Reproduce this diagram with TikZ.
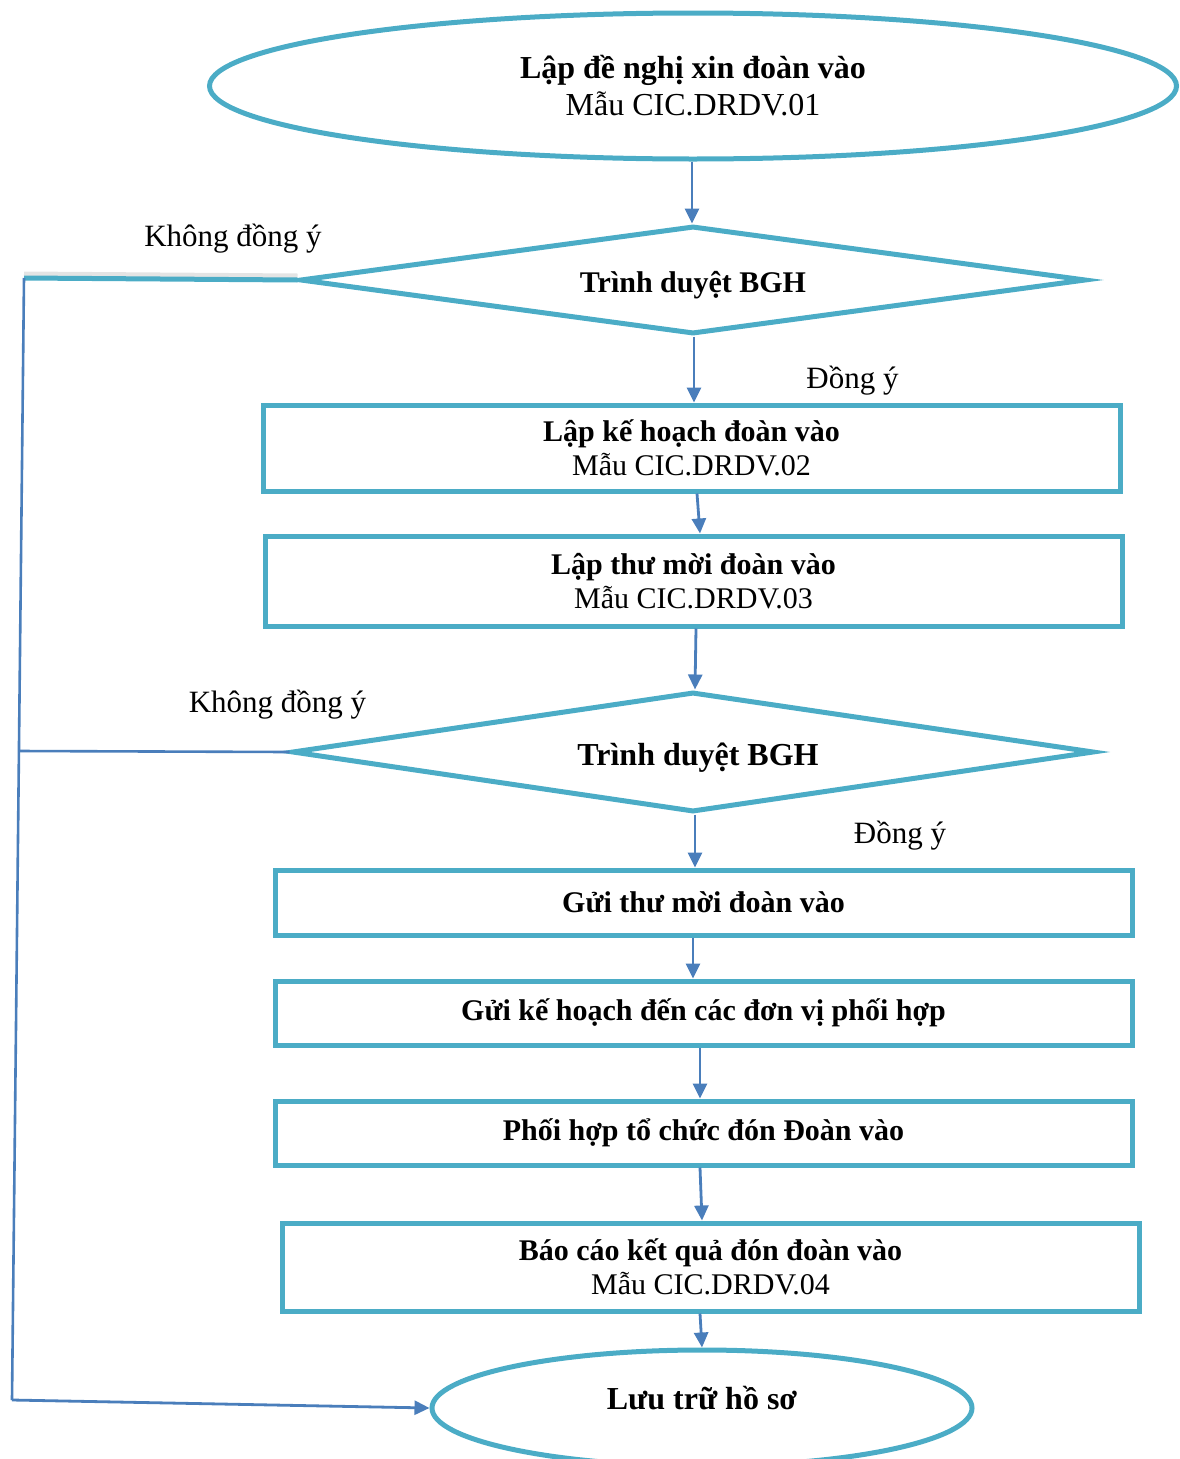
\documentclass[tikz,border=0pt]{standalone}
\usepackage{fontspec}
\setmainfont{Liberation Serif}
\usetikzlibrary{shapes.geometric,arrows.meta}
\definecolor{teal1}{HTML}{4BACC6}
\definecolor{flow}{HTML}{4A7EBB}
\begin{document}
\begin{tikzpicture}[x=1pt,y=-1pt,
  stepbox/.style={draw=teal1,line width=5pt,rectangle,inner sep=0pt,align=center,
    minimum width=857pt,font=\fontsize{30}{34}\selectfont},
  oval/.style={draw=teal1,line width=5pt,ellipse,inner sep=0pt,align=center},
  decision/.style={draw=teal1,line width=5pt,diamond,inner sep=0pt,aspect=7.4},
  flowarrow/.style={draw=flow,line width=2.8pt,-{Triangle[length=15pt,width=14pt]}},
  flowline/.style={draw=flow,line width=2.6pt},
  lbl/.style={anchor=base,inner sep=0pt,font=\fontsize{31}{36}\selectfont}]
\useasboundingbox (0,0) rectangle (1180,1459);

% start
\node[oval,minimum width=967pt,minimum height=146pt,font=\fontsize{32}{37}\selectfont]
  (start) at (693,86) {\textbf{Lập đề nghị xin đoàn vào}\\Mẫu CIC.DRDV.01};

% first approval
\node[decision,minimum width=786pt,minimum height=108pt,font=\fontsize{30}{34}\selectfont\bfseries]
  (d1) at (693,280) {\raisebox{-12pt}[0pt][0pt]{Trình duyệt BGH}};

\node[stepbox,minimum height=86pt] (b1) at (691.5,448) {\textbf{Lập kế hoạch đoàn vào}\\Mẫu CIC.DRDV.02};
\node[stepbox,minimum height=90pt] (b2) at (693.5,581) {\textbf{Lập thư mời đoàn vào}\\Mẫu CIC.DRDV.03};

% second approval
\node[decision,minimum width=802pt,minimum height=120pt,font=\fontsize{32}{37}\selectfont\bfseries]
  (d2) at (693,752) {\hspace*{10pt}\raisebox{-13.5pt}[0pt][0pt]{Trình duyệt BGH}};

\node[stepbox,minimum height=65pt] (b3) at (703.5,902.5) {\textbf{Gửi thư mời đoàn vào}};
\node[stepbox,minimum height=64pt] (b4) at (703.5,1013) {\textbf{Gửi kế hoạch đến các đơn vị phối hợp}};
\node[stepbox,minimum height=64pt] (b5) at (703.5,1133) {\textbf{Phối hợp tổ chức đón Đoàn vào}};
\node[stepbox,minimum height=88pt] (b6) at (710.5,1267) {\textbf{Báo cáo kết quả đón đoàn vào}\\Mẫu CIC.DRDV.04};

% end
\node[oval,minimum width=540pt,minimum height=116pt,font=\fontsize{32}{37}\selectfont\bfseries]
  (end) at (702,1408) {\raisebox{-1.5pt}[0pt][0pt]{Lưu trữ hồ sơ}};

% labels
\node[lbl] (no1) at (233,246) {Không đồng ý};
\node[lbl] (no2) at (277.5,712) {Không đồng ý};
\node[lbl] (yes1) at (852.5,388) {Đồng ý};
\node[lbl] (yes2) at (900,843) {Đồng ý};

% main flow
\draw[flowarrow] (start.south -| 692,0) -- (d1.north -| 692,0);
\draw[flowarrow] (d1.south -| 694,0) -- (b1.north -| 694,0);
\draw[flowarrow] (b1.south -| 697,0) -- (b2.north -| 700,0);
\draw[flowarrow] (b2.south -| 696,0) -- (d2.north -| 695,0);
\draw[flowarrow] (d2.south -| 695,0) -- (b3.north -| 695,0);
\draw[flowarrow] (b3.south -| 693,0) -- (b4.north -| 693,0);
\draw[flowarrow] (b4.south -| 700,0) -- (b5.north -| 700,0);
\draw[flowarrow] (b5.south -| 700,0) -- (b6.north -| 702,0);
\draw[flowarrow] (b6.south -| 700,0) -- (end.north -| 702,0);

% rejection path
\coordinate (r1) at (24,278);
\coordinate (r2) at (18.9,751);
\coordinate (r3) at (12,1400);
\draw[gray!60,line width=5pt,opacity=0.35] ([yshift=4pt]d1.west) -- ([yshift=4pt]r1);
\draw[teal1,line width=5pt] (d1.west) -- (r1);
\draw[flowline] (r1) -- (r3);
\draw[flowline] (d2.west) -- (r2);
\draw[flowarrow] (r3) -- (end.west);
\end{tikzpicture}
\end{document}
